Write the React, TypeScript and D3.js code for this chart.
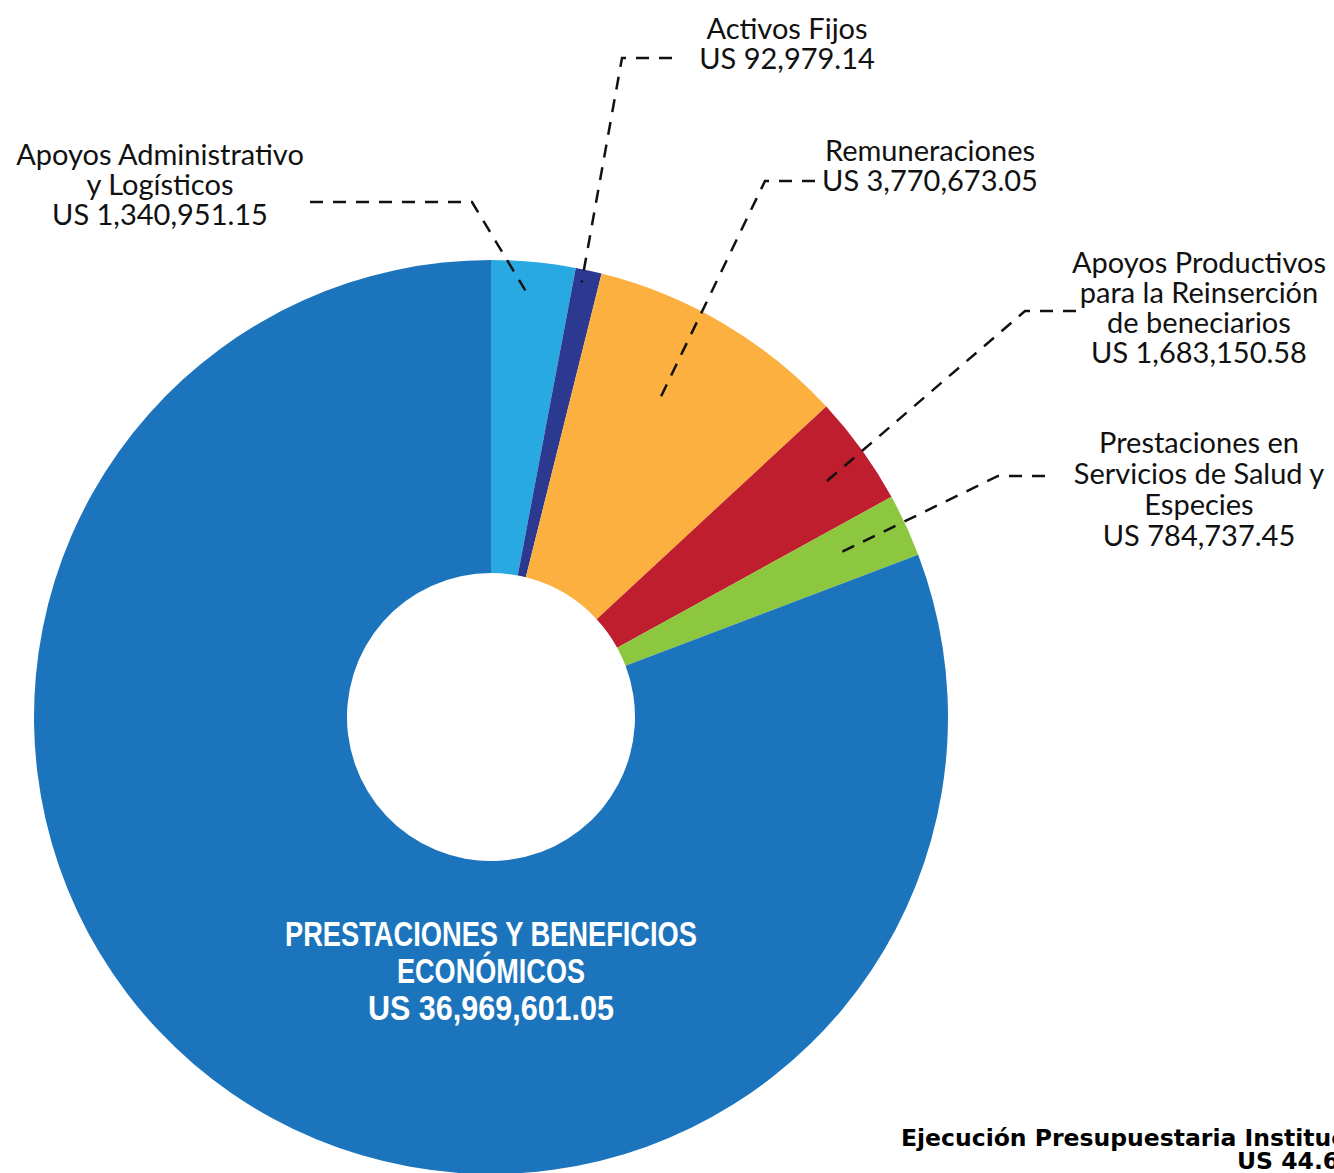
import React from "react";
import * as d3 from "d3";

const categories = [
  "Apoyos Administrativo y Logísticos",
  "Activos Fijos",
  "Remuneraciones",
  "Apoyos Productivos para la Reinserción de beneciarios",
  "Prestaciones en Servicios de Salud y Especies",
  "Prestaciones y Beneficios Económicos",
];
// amounts as printed in the labels
const amounts = ["1,340,951.15", "92,979.14", "3,770,673.05", "1,683,150.58", "784,737.45", "36,969,601.05"];
// share of the ring as drawn in the picture (%)
const shares = [2.97, 0.92, 9.22, 3.89, 2.22, 80.78];
const colors = ["#29A9E1", "#2B3990", "#FBB040", "#BE1E2D", "#8DC63F", "#1C75BC"];

const labelLines = [
  ["Apoyos Administrativo", "y Logísticos", "US " + amounts[0]],
  ["Activos Fijos", "US " + amounts[1]],
  ["Remuneraciones", "US " + amounts[2]],
  ["Apoyos Productivos", "para la Reinserción", "de beneciarios", "US " + amounts[3]],
  ["Prestaciones en", "Servicios de Salud y", "Especies", "US " + amounts[4]],
];
const centerLines = ["PRESTACIONES Y BENEFICIOS", "ECONÓMICOS", "US " + amounts[5]];
const titleLines = ["Ejecución Presupuestaria Institucional", "US 44.642.092,42"];

// layout
const W = 1334, H = 1173;
const cx = 491, cy = 717, R = 457, r0 = 144;
const labelPos = [
  { x: 160, y: 165, dy: 30 },
  { x: 787, y: 39, dy: 30 },
  { x: 930, y: 161, dy: 30 },
  { x: 1199, y: 273, dy: 30 },
  { x: 1199, y: 453, dy: 31 },
];
const leaders = [
  { end: [310, 202], elbow: [472, 202], f: 0.43, r: 428 },
  { end: [672, 58], elbow: [622, 58], f: 0.33, r: 444 },
  { end: [815, 181], elbow: [765, 181], f: 0.42, r: 363 },
  { end: [1076, 311], elbow: [1025, 311], f: 0.56, r: 402 },
  { end: [1045, 476], elbow: [998, 476], f: 0.45, r: 388 },
];

export default function App() {
  const pie = d3.pie<number>().sort(null).value((d) => d);
  const arcs = pie(shares);
  const arc = d3.arc<d3.PieArcDatum<number>>().innerRadius(r0).outerRadius(R);
  const labelFont = "Lato, 'Noto Sans', sans-serif";

  return (
    <svg width={W} height={H} style={{ position: "absolute", left: 0, top: 0, background: "#fff" }}>
      <g transform={`translate(${cx},${cy})`}>
        {arcs.map((a, i) => (
          <path key={categories[i]} d={arc(a) || ""} fill={colors[i]} />
        ))}
      </g>
      {leaders.map((l, i) => {
        const a = arcs[i];
        const ang = a.startAngle + l.f * (a.endAngle - a.startAngle);
        const ax = cx + l.r * Math.sin(ang);
        const ay = cy - l.r * Math.cos(ang);
        const line = d3.line()([l.end as [number, number], l.elbow as [number, number], [ax, ay]]);
        return (
          <path key={i} d={line || ""} fill="none" stroke="#111" strokeWidth={2.5} strokeDasharray="13,10" />
        );
      })}
      {labelLines.map((lines, i) => (
        <text key={i} fontFamily={labelFont} fontSize={29} fill="#111" textAnchor="middle">
          {lines.map((t, j) => (
            <tspan key={j} x={labelPos[i].x} y={labelPos[i].y + j * labelPos[i].dy}>
              {t}
            </tspan>
          ))}
        </text>
      ))}
      <g fontFamily="'Liberation Sans Narrow', 'Liberation Sans', Arial, sans-serif" fontWeight="bold" fontSize={35} fill="#fff" textAnchor="middle">
        <text x={cx} y={946} textLength={412} lengthAdjust="spacingAndGlyphs">{centerLines[0]}</text>
        <text x={cx} y={983} textLength={188} lengthAdjust="spacingAndGlyphs">{centerLines[1]}</text>
        <text x={cx} y={1020} textLength={246} lengthAdjust="spacingAndGlyphs">{centerLines[2]}</text>
      </g>
      <g fontFamily="'DejaVu Sans', sans-serif" fontWeight="bold" fontSize={23.5} fill="#000">
        <text x={901} y={1146}>{titleLines[0]}</text>
        <text x={1237} y={1169}>{titleLines[1]}</text>
      </g>
    </svg>
  );
}
